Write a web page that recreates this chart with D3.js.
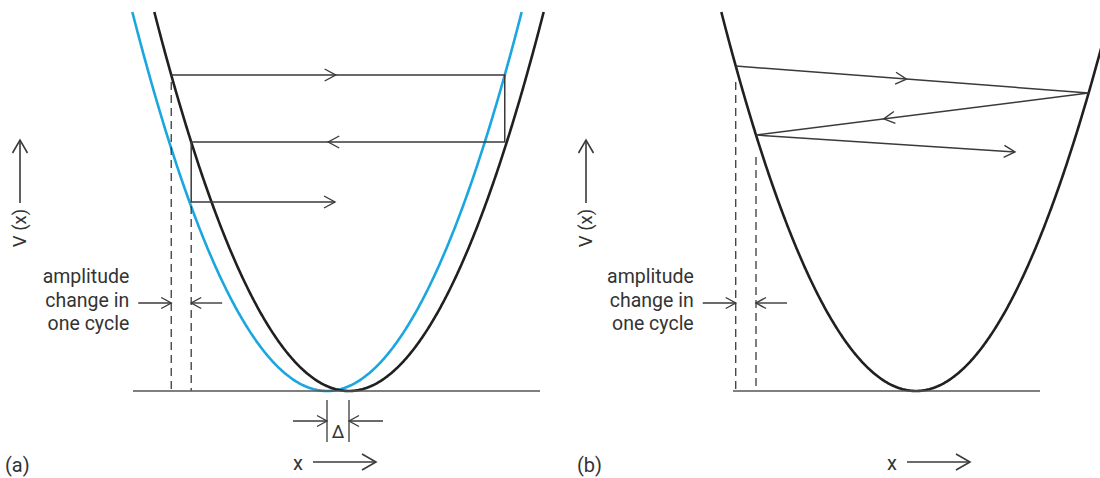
<!DOCTYPE html>
<html><head><meta charset="utf-8">
<script src="https://cdn.jsdelivr.net/npm/d3@7"></script>
<style>
body{margin:0;background:#fff}
svg{display:block}
text{font-family:Roboto,"Open Sans",sans-serif;fill:#333}
</style>
</head><body>
<svg id="c" width="1100" height="478"></svg>
<script>
// ---- data ----
const panelLabels = ["(a)", "(b)"];
const curveShiftsA = [0, -0.22];          // black (actual), blue (shifted) potential
const curveColors = ["#231f20", "#1aa7e0"];
const levelsA = [3.16, 2.49, 1.89];       // energy levels of the path in (a)
const endA = -0.14;                        // x where last arrow of (a) ends
const levelsB = [3.25, 2.98, 2.56, 2.39];  // energy at successive turning points in (b)
const endB = 0.99;                         // x where last arrow of (b) ends
const baselineA = [-2.16, 1.91];           // x extent of the axis line in (a)
const baselineB = [-1.83, 1.24];           // x extent of the axis line in (b)
const amplitudeLines = ["amplitude", "change in", "one cycle"];
const axisLabels = ["V (x)", "x"];
const deltaLabel = "Δ";
const vMax = 3.79;

// ---- scales ----
const y = d3.scaleLinear().domain([0, 4]).range([391, -9]);
const xA = d3.scaleLinear().domain([-2, 2]).range([149, 549]);
const xB = d3.scaleLinear().domain([-2, 2]).range([716, 1116]);

const svg = d3.select("#c");
const ink = "#3a3a3a";

function chevron(g, tip, angle, len, half, sw) {
  const c = Math.cos(angle), s = Math.sin(angle);
  const p = (dx, dy) => [tip[0] + dx * c - dy * s, tip[1] + dx * s + dy * c];
  const a = p(-len, -half), b = p(-len, half);
  g.append("path").attr("d", `M${a}L${tip}L${b}`)
    .attr("fill", "none").attr("stroke", ink).attr("stroke-width", sw || 1.4)
    .attr("stroke-linejoin", "miter");
}
function seg(g, p, q, sw, dash) {
  const l = g.append("line").attr("x1", p[0]).attr("y1", p[1]).attr("x2", q[0]).attr("y2", q[1])
    .attr("stroke", ink).attr("stroke-width", sw || 1.4);
  if (dash) l.attr("stroke-dasharray", dash);
  return l;
}
function arrowAlong(g, p, q, f) {
  const tip = [p[0] + (q[0] - p[0]) * f, p[1] + (q[1] - p[1]) * f];
  chevron(g, tip, Math.atan2(q[1] - p[1], q[0] - p[0]), 11, 6);
}
function parabola(g, xs, shift, color) {
  const r = Math.sqrt(vMax);
  const pts = d3.range(-r, r + 1e-9, r / 200).map(u => [xs(u + shift), y(u * u)]);
  g.append("path").attr("d", d3.line()(pts)).attr("fill", "none")
    .attr("stroke", color).attr("stroke-width", 2.6);
}
function sideLabels(g, xs, ext, cx, labelX) {
  g.append("line").attr("x1", xs(ext[0])).attr("x2", xs(ext[1])).attr("y1", y(0)).attr("y2", y(0))
    .attr("stroke", "#555").attr("stroke-width", 1.5);
  g.append("text").attr("transform", `translate(${cx + 6},228) rotate(-90)`)
    .attr("text-anchor", "middle").attr("font-size", 18.5).text(axisLabels[0]);
  seg(g, [cx, 203], [cx, 140], 1.6);
  chevron(g, [cx, 140], -Math.PI / 2, 13, 7.5, 1.6);
  const xx = xs(labelX);
  g.append("text").attr("x", xx).attr("y", 470).attr("font-size", 20).attr("text-anchor", "middle").text(axisLabels[1]);
  seg(g, [xx + 15, 462], [xx + 78, 462], 1.6);
  chevron(g, [xx + 78, 462], 0, 14, 8, 1.6);
}
function amplitude(g, xd1, xd2) {
  const t = g.append("text").attr("text-anchor", "end").attr("font-size", 19.5);
  amplitudeLines.forEach((s, i) => t.append("tspan").attr("x", xd1 - 42).attr("y", 283 + i * 23.5).text(s));
  seg(g, [xd1 - 33, 303], [xd1, 303]); chevron(g, [xd1, 303], 0, 10, 5.5);
  seg(g, [xd2 + 31, 303], [xd2, 303]); chevron(g, [xd2, 303], Math.PI, 10, 5.5);
}

// ---- panel (a) ----
const ga = svg.append("g");
parabola(ga, xA, curveShiftsA[1], curveColors[1]);
parabola(ga, xA, curveShiftsA[0], curveColors[0]);
const a0 = [xA(-Math.sqrt(levelsA[0])), y(levelsA[0])];
const a1 = [xA(curveShiftsA[1] + Math.sqrt(levelsA[0])), y(levelsA[0])];
const a2 = [a1[0], y(levelsA[1])];
const a3 = [xA(-Math.sqrt(levelsA[1])), y(levelsA[1])];
const a4 = [a3[0], y(levelsA[2])];
const a5 = [xA(endA), y(levelsA[2])];
ga.append("path").attr("d", d3.line()([a0, a1, a2, a3, a4, a5])).attr("fill", "none")
  .attr("stroke", ink).attr("stroke-width", 1.5);
arrowAlong(ga, a0, a1, 0.493);
arrowAlong(ga, a2, a3, 0.563);
arrowAlong(ga, a4, a5, 1);
seg(ga, [a0[0], a0[1] + 7], [a0[0], y(0)], 1.3, "8,5");
seg(ga, [a3[0], a4[1] + 4], [a3[0], y(0)], 1.3, "8,5");
amplitude(ga, a0[0], a3[0]);
sideLabels(ga, xA, baselineA, 20, -0.51);
const d1 = xA(curveShiftsA[1]), d2 = xA(curveShiftsA[0]);
seg(ga, [d1, 400], [d1, 442], 1.3); seg(ga, [d2, 400], [d2, 442], 1.3);
seg(ga, [d1 - 34, 421], [d1, 421], 1.3); chevron(ga, [d1, 421], 0, 10, 5.5, 1.3);
seg(ga, [d2 + 34, 421], [d2, 421], 1.3); chevron(ga, [d2, 421], Math.PI, 10, 5.5, 1.3);
ga.append("text").attr("x", (d1 + d2) / 2).attr("y", 438).attr("text-anchor", "middle")
  .attr("font-family", "DejaVu Serif").attr("font-size", 18).text(deltaLabel);
ga.append("text").attr("x", 5).attr("y", 472).attr("font-size", 20).text(panelLabels[0]);

// ---- panel (b) ----
const gb = svg.append("g");
parabola(gb, xB, 0, curveColors[0]);
const bp = levelsB.slice(0, 3).map((v, i) => [xB((i % 2 ? 1 : -1) * Math.sqrt(v)), y(v)]);
bp.push([xB(endB), y(levelsB[3])]);
gb.append("path").attr("d", d3.line()(bp)).attr("fill", "none").attr("stroke", ink).attr("stroke-width", 1.5);
arrowAlong(gb, bp[0], bp[1], 0.484);
arrowAlong(gb, bp[1], bp[2], 0.616);
arrowAlong(gb, bp[2], bp[3], 1);
seg(gb, [bp[0][0], bp[0][1] + 16], [bp[0][0], y(0)], 1.3, "8,5");
seg(gb, [bp[2][0], bp[2][1] + 22], [bp[2][0], y(0)], 1.3, "8,5");
amplitude(gb, bp[0][0], bp[2][0]);
sideLabels(gb, xB, baselineB, 586, -0.24);
gb.append("text").attr("x", 577).attr("y", 472).attr("font-size", 20).text(panelLabels[1]);
</script>
</body></html>
